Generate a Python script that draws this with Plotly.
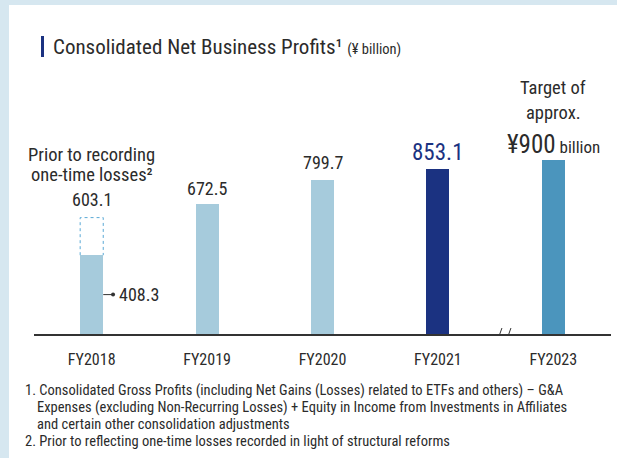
import plotly.graph_objects as go

# data (¥ billion)
categories = ["FY2018", "FY2019", "FY2020", "FY2021", "FY2023"]
profits = [408.3, 672.5, 799.7, 853.1, 900.0]
prior_fy2018 = 603.1
bar_colors = ["#a6cbdc", "#a6cbdc", "#a6cbdc", "#1b3281", "#4b95bd"]
value_labels = ["603.1", "672.5", "799.7", "853.1", "900"]
footnotes = [
    ("1. Consolidated Gross Profits (including Net Gains (Losses) related to ETFs and others) – G&A", 0),
    ("Expenses (excluding Non-Recurring Losses) + Equity in Income from Investments in Affiliates", 1),
    ("and certain other consolidation adjustments", 1),
    ("2. Prior to reflecting one-time losses recorded in light of structural reforms", 0),
]

FONT = "Roboto Condensed, Liberation Sans Narrow, DejaVu Sans Condensed, Arial Narrow, sans-serif"
TXT = "#2b2b2b"
W, H = 617, 458
ML, MR, MT, MB = 34, 6, 141, 124

def px_x(px):
    return (px - ML) / (W - ML - MR)

def px_y(py):
    return (H - MB - py) / (H - MT - MB)

xs = list(range(len(categories)))

fig = go.Figure()
fig.add_trace(go.Bar(
    x=xs, y=profits, width=0.2,
    marker=dict(color=bar_colors, line=dict(width=0)),
    hoverinfo="skip", showlegend=False,
))

# connector to the 408.3 label
mid = profits[0] / 2
fig.add_trace(go.Scatter(
    x=[0.1, 0.185], y=[mid, mid], mode="lines",
    line=dict(color="#333", width=1), hoverinfo="skip", showlegend=False,
))
fig.add_trace(go.Scatter(
    x=[0.185], y=[mid], mode="markers",
    marker=dict(color="#333", size=4), hoverinfo="skip", showlegend=False,
))

shapes = [
    # background frame
    dict(type="rect", xref="paper", yref="paper", x0=px_x(0), x1=px_x(9), y0=px_y(H), y1=px_y(0),
         fillcolor="#d6e7f0", line=dict(width=0), layer="below"),
    dict(type="rect", xref="paper", yref="paper", x0=px_x(0), x1=px_x(W), y0=px_y(5), y1=px_y(0),
         fillcolor="#d6e7f0", line=dict(width=0), layer="below"),
    # title marker
    dict(type="rect", xref="paper", yref="paper", x0=px_x(41), x1=px_x(44), y0=px_y(57), y1=px_y(36),
         fillcolor="#1b3281", line=dict(width=0)),
    # dashed outline: FY2018 before one-time losses
    dict(type="path", xref="x", yref="y",
         path=f"M -0.1 {profits[0]} L -0.1 {prior_fy2018} L 0.1 {prior_fy2018} L 0.1 {profits[0]}",
         line=dict(color="#5aa9d6", width=1, dash="dot"), layer="below"),
    # axis break marks
    dict(type="line", xref="x", yref="y", x0=3.512, x1=3.555, y0=-41, y1=31,
         line=dict(color="#333", width=1)),
    dict(type="line", xref="x", yref="y", x0=3.590, x1=3.633, y0=-41, y1=31,
         line=dict(color="#333", width=1)),
]

def label(x, y, text, shift, size=18, color=TXT):
    return dict(x=x, y=y, yshift=shift, yanchor="middle", text=text,
                font=dict(size=size, color=color), showarrow=False)

annotations = [
    dict(xref="paper", yref="paper", x=px_x(51), y=px_y(47), xanchor="left", yanchor="middle",
         text="Consolidated Net Business Profits¹ <span style='font-size:14.5px'>(¥ billion)</span>",
         font=dict(size=21, color=TXT), showarrow=False),
    label(0, prior_fy2018, "Prior to recording", 63, 18.5),
    label(0, prior_fy2018, "one-time losses²", 43, 18.5),
    label(0, prior_fy2018, value_labels[0], 18),
    dict(x=0.22, y=mid, xanchor="left", yanchor="middle", text="408.3",
         font=dict(size=18, color=TXT), showarrow=False),
    label(1, profits[1], value_labels[1], 16),
    label(2, profits[2], value_labels[2], 17),
    label(3, profits[3], value_labels[3], 17, 23, "#1b3281"),
    label(4, profits[4], "Target of", 72, 18.5),
    label(4, profits[4], "approx.", 47, 18.5),
    label(4, profits[4], f"<span style='font-size:25px'>¥{value_labels[4]}</span> billion", 16, 17),
]

for k, (line, indent) in enumerate(footnotes):
    annotations.append(dict(xref="paper", yref="paper", x=px_x(23 + 12 * indent), y=px_y(390 + 17 * k),
                            xanchor="left", yanchor="middle", text=line,
                            font=dict(size=14.5, color=TXT), showarrow=False))

fig.update_layout(
    width=W, height=H,
    margin=dict(l=ML, r=MR, t=MT, b=MB),
    paper_bgcolor="white", plot_bgcolor="white",
    font=dict(family=FONT, color=TXT),
    shapes=shapes, annotations=annotations,
    bargap=0,
    xaxis=dict(range=[-0.5, 4.5], tickvals=xs, ticktext=categories, showgrid=False, zeroline=False,
               showline=True, linecolor="#333", linewidth=1.5, ticks="", tickfont=dict(size=16, color=TXT),
               ticklabelstandoff=10, fixedrange=True),
    yaxis=dict(range=[0, 1000], visible=False, fixedrange=True),
)

fig.write_html("out.html", config={"displayModeBar": False},
               post_script="document.body.style.margin='0';")
